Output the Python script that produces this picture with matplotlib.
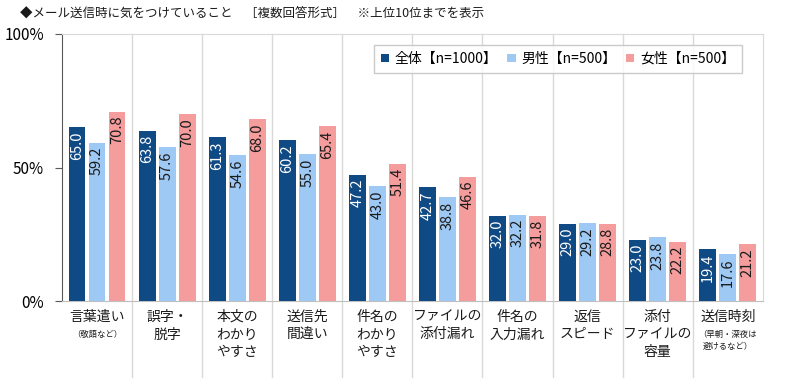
import matplotlib
matplotlib.use("Agg")

import matplotlib.pyplot as plt
import numpy as np

plt.rcParams["font.family"] = ["Noto Sans CJK JP", "DejaVu Sans"]

# Data
categories = [
    "言葉遣い", "誤字・\n脱字", "本文の\nわかり\nやすさ", "送信先\n間違い",
    "件名の\nわかり\nやすさ", "ファイルの\n添付漏れ", "件名の\n入力漏れ",
    "返信\nスピード", "添付\nファイルの\n容量", "送信時刻",
]
notes = {0: "（敬語など）", 9: "（早朝・深夜は\n避けるなど）"}

series_names = ["全体【n=1000】", "男性【n=500】", "女性【n=500】"]
total = [65.0, 63.8, 61.3, 60.2, 47.2, 42.7, 32.0, 29.0, 23.0, 19.4]
male = [59.2, 57.6, 54.6, 55.0, 43.0, 38.8, 32.2, 29.2, 23.8, 17.6]
female = [70.8, 70.0, 68.0, 65.4, 51.4, 46.6, 31.8, 28.8, 22.2, 21.2]

colors = ["#0f4a85", "#9ec9f4", "#f59c9c"]
text_colors = ["white", "#1a1a1a", "#1a1a1a"]

fig = plt.figure(figsize=(8.0, 3.89), dpi=100)
ax = fig.add_axes([0.0775, 0.2262, 0.876, 0.6864])

x = np.arange(len(categories))
width = 0.24
step = 0.285

for i, vals in enumerate([total, male, female]):
    pos = x + (i - 1) * step
    ax.bar(pos, vals, width, color=colors[i], label=series_names[i], zorder=3)
    for p, v in zip(pos, vals):
        ax.text(p, v - 1.5, f"{v:.1f}", rotation=90, ha="center", va="top",
                color=text_colors[i], fontsize=10.5, zorder=4)

ax.set_xlim(-0.5, len(categories) - 0.5)
ax.set_ylim(0, 100)
ax.set_yticks([0, 50, 100])
ax.set_yticklabels(["0%", "50%", "100%"], fontsize=11)
ax.tick_params(axis="y", length=5, color="#595959", pad=8)
ax.tick_params(axis="x", length=0)
ax.set_xticks([])

# separators between categories, running down into the label area
for b in np.arange(0.5, len(categories) - 1, 1.0):
    ax.plot([b, b], [-28.5, 100], color="#d9d9d9", lw=1, clip_on=False, zorder=1)

ax.spines["left"].set_color("#595959")
ax.spines["bottom"].set_color("#bfbfbf")
ax.spines["top"].set_color("#d9d9d9")
ax.spines["right"].set_color("#d9d9d9")

# category labels
for i, c in enumerate(categories):
    ax.text(i, -3.2, c, ha="center", va="top", fontsize=10,
            linespacing=1.35, color="#1a1a1a")
for i, n in notes.items():
    ax.text(i, -10.8, n, ha="center", va="top", fontsize=6,
            linespacing=1.5, color="#1a1a1a")

ax.legend(loc="upper right", bbox_to_anchor=(0.970, 0.959), borderaxespad=0,
          ncol=3, fontsize=10, frameon=True, fancybox=False,
          edgecolor="#bfbfbf", handlelength=0.6, handleheight=0.6,
          handletextpad=0.4, columnspacing=0.7, borderpad=0.5)

fig.text(0.025, 0.965, "◆メール送信時に気をつけていること　［複数回答形式］　※上位10位までを表示",
         fontsize=9, va="center", ha="left", color="#1a1a1a")

fig.savefig("out.png", dpi=100)
